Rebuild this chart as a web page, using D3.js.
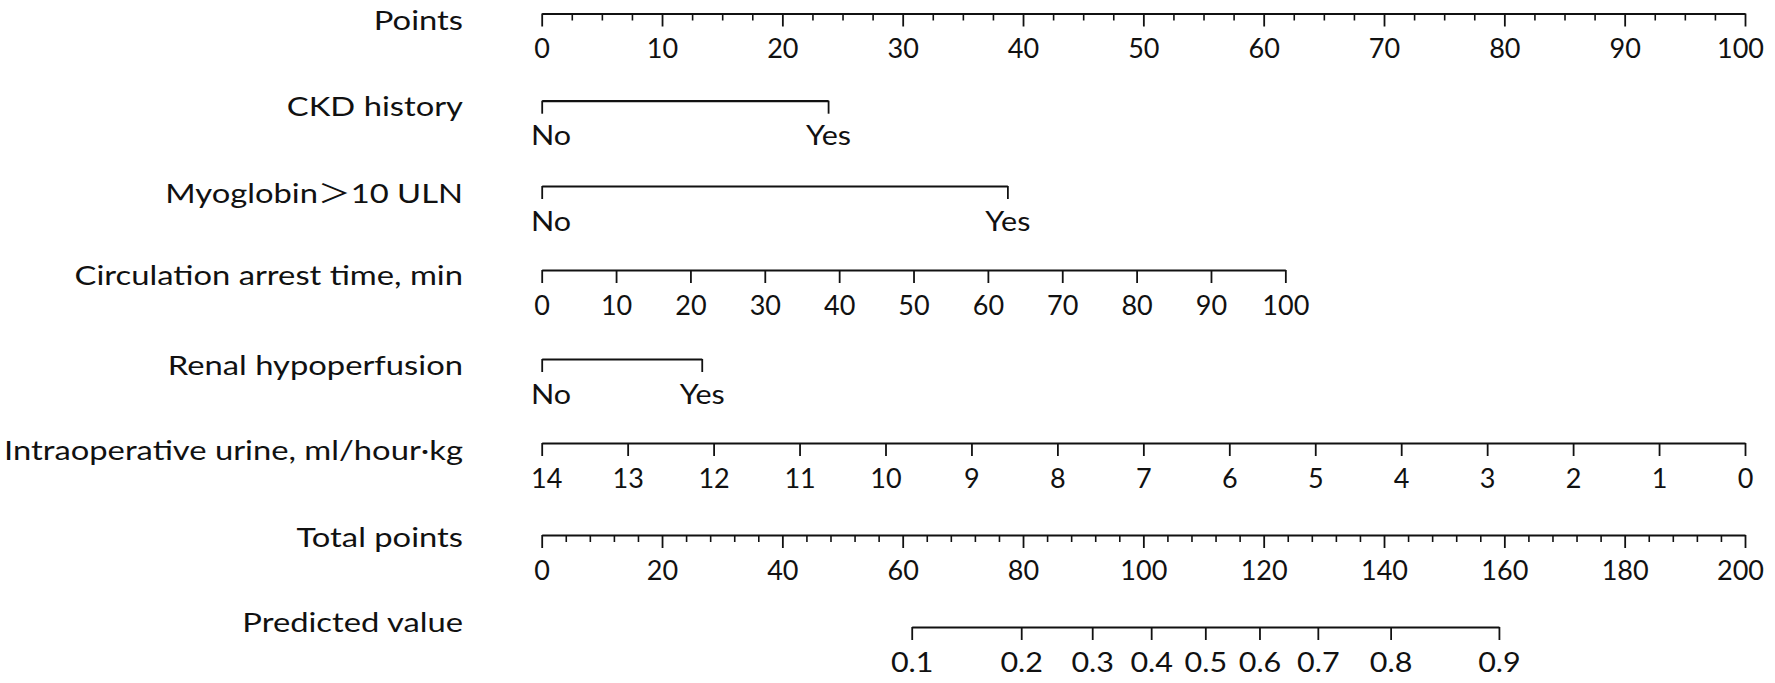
<!DOCTYPE html>
<html><head><meta charset="utf-8">
<script src="https://cdn.jsdelivr.net/npm/d3@7"></script>
<style>
html,body{margin:0;padding:0;background:#fff;}
svg{display:block;}
</style>
</head><body>
<svg id="chart" width="1775" height="683"></svg>
<script>
// ---------------- data ----------------
const rowNames = ["Points","CKD history","Myoglobin\uFF1E10 ULN","Circulation arrest time, min","Renal hypoperfusion","Intraoperative urine, ml/hour\u00B7kg","Total points","Predicted value"];
const pointsTicks = [0,10,20,30,40,50,60,70,80,90,100];
const binaryLevels = ["No","Yes"];
const ckdPoints = [0, 23.8];          // points for No / Yes
const myoPoints = [0, 38.7];
const renalPoints = [0, 13.3];
const circTicks = [0,10,20,30,40,50,60,70,80,90,100];
const circPointsAt100 = 61.8;         // points for 100 min
const urineTicks = [14,13,12,11,10,9,8,7,6,5,4,3,2,1,0];
const urinePoints = [0, 100];          // points for 14 and 0 ml/hour·kg
const totalTicks = [0,20,40,60,80,100,120,140,160,180,200];
const predTicks = [0.1,0.2,0.3,0.4,0.5,0.6,0.7,0.8,0.9];
const predTotalPts = [61.5,79.7,91.5,101.3,110.3,119.3,129.0,141.1,159.1];

// ---------------- layout ----------------
const x0 = 541.7, x1 = 1745;
const rowY = [13.5, 100.7, 186, 270, 359, 443, 535, 627];
const labelDy = [16, 15.5, 17, 15, 16, 17, 12, 5];
const labelRight = 463;
const labelStretch = 1.26;
const textStretch = 1.13;
const tickLabelDy = 44.5;
const majorLen = 13, minorLen = 7;
const clampL = 531, clampR = 1764;
const FONT = "Lato, 'Noto Sans CJK SC', sans-serif";
const INK = "#111";

const svg = d3.select("#chart");
const pts = d3.scaleLinear().domain([0,100]).range([x0,x1]);
const tot = d3.scaleLinear().domain([0,200]).range([x0,x1]);

// row labels
svg.append("g").selectAll("text").data(rowNames).join("text")
  .attr("transform",(d,i)=>`translate(${labelRight},${rowY[i]+labelDy[i]}) scale(${labelStretch},1)`)
  .attr("text-anchor","end")
  .attr("font-family",FONT)
  .attr("font-size",26)
  .attr("fill",INK)
  .text(d=>d);

function styleAxis(g){
  g.select(".domain").attr("stroke",INK).attr("stroke-width",2.2);
  g.selectAll(".tick line").attr("stroke",INK).attr("stroke-width",1.8);
  g.selectAll(".tick text")
    .attr("font-family",FONT).attr("font-size",27).attr("fill",INK)
    .attr("dy",null).attr("y",tickLabelDy);
}

function drawAxis(i, scale, ticks, fmt, minorTicks){
  const g = svg.append("g").attr("transform",`translate(0,${rowY[i]})`);
  if (minorTicks){
    g.append("g").call(d3.axisBottom(scale).tickValues(minorTicks).tickSize(minorLen).tickSizeOuter(0).tickFormat(""))
      .call(s=>{ s.select(".domain").remove(); s.selectAll(".tick line").attr("stroke",INK).attr("stroke-width",1.6); });
  }
  const ax = g.append("g").call(d3.axisBottom(scale).tickValues(ticks).tickSize(majorLen).tickSizeOuter(0).tickFormat(fmt));
  ax.call(styleAxis);
  // wider glyphs for non-integer labels, and keep labels inside the plotting region
  ax.selectAll(".tick").each(function(){
    const t = d3.select(this);
    const tx = +t.attr("transform").match(/translate\(([-\d.e]+)/)[1];
    const txt = t.select("text");
    const s = /^-?\d+$/.test(txt.text()) ? 1 : textStretch;
    const w = txt.node().getComputedTextLength() * s;
    let shift = 0;
    if (tx - w/2 < clampL) shift = clampL - (tx - w/2);
    if (tx + w/2 > clampR) shift = clampR - (tx + w/2);
    txt.attr("y",null).attr("transform",`translate(${shift},${tickLabelDy}) scale(${s},1)`);
  });
  return g;
}

// Points
drawAxis(0, pts, pointsTicks, d=>d, d3.range(0,100.01,2.5).filter(v=>v%10!==0));
// binary rows
function binScale(p){ return d3.scaleLinear().domain([0,1]).range([pts(p[0]),pts(p[1])]); }
drawAxis(1, binScale(ckdPoints), [0,1], d=>binaryLevels[d]);
drawAxis(2, binScale(myoPoints), [0,1], d=>binaryLevels[d]);
// circulation
drawAxis(3, d3.scaleLinear().domain([0,100]).range([pts(0),pts(circPointsAt100)]), circTicks, d=>d);
drawAxis(4, binScale(renalPoints), [0,1], d=>binaryLevels[d]);
// urine
drawAxis(5, d3.scaleLinear().domain([14,0]).range([pts(urinePoints[0]),pts(urinePoints[1])]), urineTicks, d=>d);
// total points
drawAxis(6, tot, totalTicks, d=>d, d3.range(0,200.01,4).filter(v=>v%20!==0));
// predicted
const pred = d3.scaleLinear().domain(predTicks).range(predTotalPts.map(v=>tot(v)));
drawAxis(7, pred, predTicks, d3.format(".1f"));
</script>
</body></html>
